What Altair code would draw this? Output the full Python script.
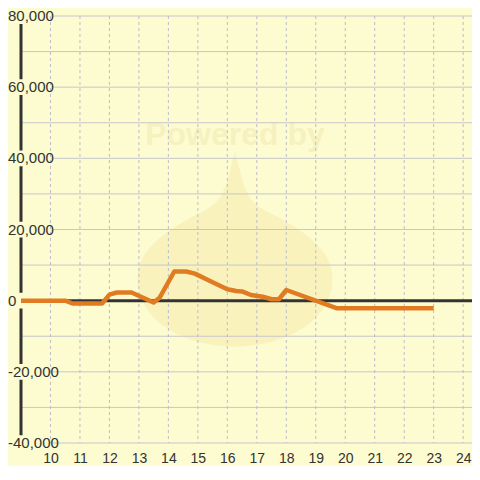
import altair as alt
import pandas as pd

# ---- data ----
hours = [9.0, 10.5, 10.75, 11.75, 12.0, 12.25, 12.75, 13.5, 13.7, 14.2, 14.6, 14.9,
         15.5, 16.0, 16.3, 16.5, 16.8, 17.2, 17.5, 17.75, 18.0, 19.7, 23.0]
values = [0, 0, -800, -800, 1700, 2300, 2300, -500, 800, 8200, 8200, 7600,
          5200, 3200, 2700, 2600, 1600, 1100, 400, 400, 3000, -2100, -2100]

x_ticks = list(range(10, 25))
y_grid = list(range(-40000, 80001, 10000))
y_label_values = [80000, 60000, 40000, 20000, 0, -20000, -40000]
y_label_texts = ["80,000", "60,000", "40,000", "20,000", "0", "-20,000", "-40,000"]

BG = "#fcfcd0"
FONT = "Liberation Sans"

line_df = pd.DataFrame({"h": hours, "v": values})
xg_df = pd.DataFrame({"h": x_ticks})
yg_df = pd.DataFrame({"v": y_grid})
yl_df = pd.DataFrame({"v": y_label_values, "t": y_label_texts})
zero_df = pd.DataFrame({"v": [0]})
axis_df = pd.DataFrame({"h": [9.0], "v": [-40000], "v2": [80000]})
wm_df = pd.DataFrame({"t": ["Powered by"]})

xs = alt.Scale(domain=[9, 24.3], nice=False, zero=False)
ys = alt.Scale(domain=[-40000, 80000], nice=False, zero=False)
x_axis = alt.Axis(values=x_ticks, grid=False, ticks=False, domain=False,
                  labelFontSize=14, labelColor="#333333", labelFont=FONT,
                  labelPadding=8, labelFlush=False, labelOverlap=False, title=None)

drop_path = ("M0,-1 C0.08,-0.7 0.1,-0.5 0.3,-0.4 C0.7,-0.2 1,0 1,0.3 "
             "C1,0.75 0.5,1 0,1 C-0.5,1 -1,0.75 -1,0.3 C-1,0 -0.7,-0.2 -0.3,-0.4 "
             "C-0.1,-0.5 -0.08,-0.7 0,-1 Z")

watermark_drop = alt.Chart(wm_df).mark_point(
    shape=drop_path, filled=True, size=38000, color="#f8efb6", opacity=0.75, strokeWidth=0
).encode(x=alt.value(214), y=alt.value(233))

watermark_text = alt.Chart(wm_df).mark_text(
    font=FONT, fontSize=32, fontWeight="bold", color="#f7f1c0", align="center", baseline="middle"
).encode(x=alt.value(214), y=alt.value(119), text="t:N")

hgrid = alt.Chart(yg_df).mark_rule(color="#c6c6cc", strokeWidth=1).encode(
    y=alt.Y("v:Q", scale=ys, axis=None)
)

vgrid = alt.Chart(xg_df).mark_rule(color="#bdbdc4", strokeWidth=1, strokeDash=[3, 3]).encode(
    x=alt.X("h:Q", scale=xs, axis=x_axis)
)

yaxis_line = alt.Chart(axis_df).mark_rule(color="#333333", strokeWidth=3).encode(
    x=alt.X("h:Q", scale=xs, axis=x_axis),
    y=alt.Y("v:Q", scale=ys, axis=None),
    y2="v2:Q",
)

label_boxes = alt.Chart(yl_df).mark_point(
    shape="M-1,-0.3H1V0.3H-1Z", filled=True, size=2756, color=BG, opacity=1, strokeWidth=0
).encode(x=alt.value(5.25), y=alt.Y("v:Q", scale=ys, axis=None))

labels = alt.Chart(yl_df).mark_text(
    font=FONT, fontSize=15, color="#333333", align="left", baseline="middle"
).encode(x=alt.value(-13), y=alt.Y("v:Q", scale=ys, axis=None), text="t:N")

zero_line = alt.Chart(zero_df).mark_rule(color="#333333", strokeWidth=3).encode(
    y=alt.Y("v:Q", scale=ys, axis=None)
)

series = alt.Chart(line_df).mark_line(
    color="#e07b22", strokeWidth=4.5, strokeJoin="round", strokeCap="butt"
).encode(
    x=alt.X("h:Q", scale=xs, axis=x_axis),
    y=alt.Y("v:Q", scale=ys, axis=None),
)

chart = alt.layer(
    watermark_drop, watermark_text, hgrid, yaxis_line, label_boxes, vgrid, labels,
    zero_line, series
).properties(
    width=451, height=427,
    padding={"left": 13, "top": 8, "right": 0, "bottom": 23},
    autosize="none",
    background=BG,
).configure_view(stroke=None)

chart.save("out.html", embed_options={"renderer": "svg", "actions": False})
